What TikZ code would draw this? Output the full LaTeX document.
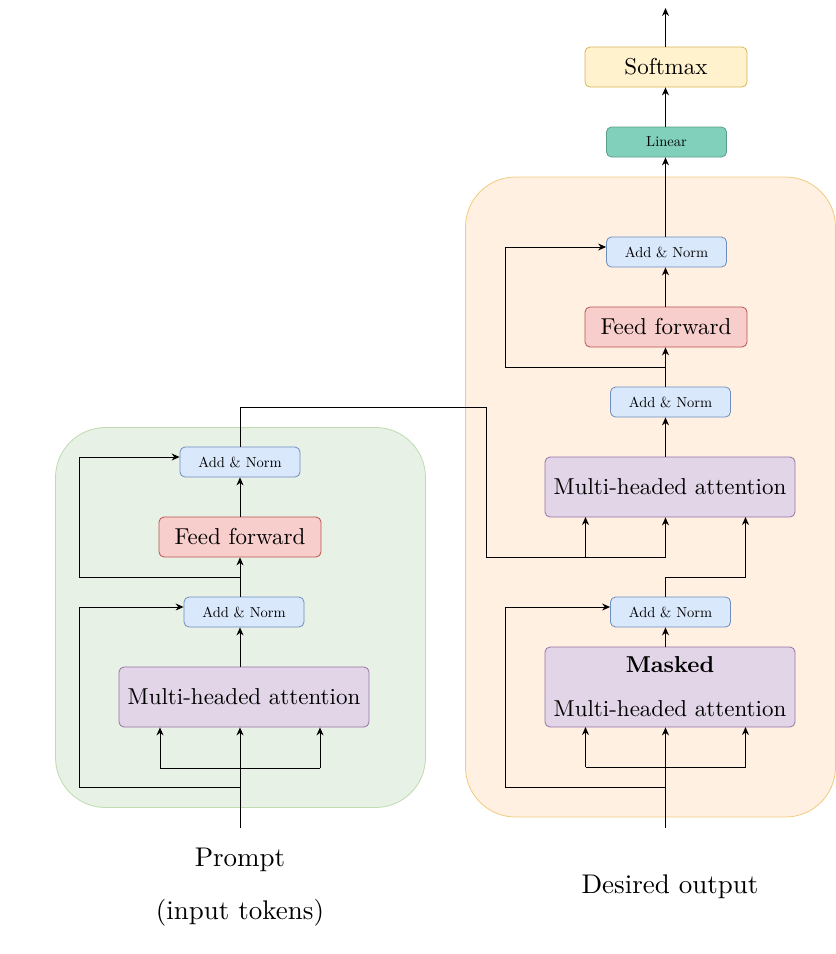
\documentclass[tikz,border=0pt]{standalone}
\usepackage{fontspec}
\setmainfont{lmroman10-regular.otf}[BoldFont=lmroman10-bold.otf]
\usetikzlibrary{arrows.meta,calc}
\definecolor{anfill}{HTML}{DAE8FC}
\definecolor{anline}{HTML}{6C8EBF}
\definecolor{fffill}{HTML}{F8CECC}
\definecolor{ffline}{HTML}{B85450}
\definecolor{mhafill}{HTML}{E1D5E7}
\definecolor{mhaline}{HTML}{9673A6}
\definecolor{smfill}{HTML}{FFF2CC}
\definecolor{smline}{HTML}{D6B656}
\definecolor{linfill}{HTML}{80D0BC}
\definecolor{linline}{HTML}{5B9E88}
\definecolor{encfill}{HTML}{E8F1E6}
\definecolor{encline}{HTML}{BDDBAD}
\definecolor{decfill}{HTML}{FFF0E2}
\definecolor{decline}{HTML}{F0CB7E}
\begin{document}
\begin{tikzpicture}[x=1pt,y=-1pt,
  box/.style={draw, rounded corners=5pt, line width=0.8pt, inner sep=0pt, align=center},
  addnorm/.style={box, fill=anfill, draw=anline, minimum width=120pt, minimum height=30pt, font=\fontsize{14.5}{17}\selectfont},
  ffbox/.style={box, fill=fffill, draw=ffline, minimum width=162pt, minimum height=40pt, font=\fontsize{23}{27}\selectfont},
  mhabox/.style={box, fill=mhafill, draw=mhaline, minimum width=250pt, minimum height=60pt, font=\fontsize{23}{27}\selectfont},
  smbox/.style={box, fill=smfill, draw=smline, minimum width=162pt, minimum height=40pt, font=\fontsize{23}{27}\selectfont},
  linbox/.style={box, fill=linfill, draw=linline, minimum width=120pt, minimum height=30pt, font=\fontsize{14.5}{17}\selectfont},
  container/.style={draw, rounded corners=50pt, line width=0.8pt, inner sep=0pt},
  lbl/.style={inner sep=0pt, font=\fontsize{27}{32}\selectfont},
  conn/.style={line width=1pt, draw=black},
  arr/.style={conn, -{Stealth[length=8pt,width=7pt]}}
]
\useasboundingbox (0,0) rectangle (836,954);

% containers
\node[container, fill=encfill, draw=encline, minimum width=370pt, minimum height=380pt] (enc) at (240.5,617.5) {};
\node[container, fill=decfill, draw=decline, minimum width=370pt, minimum height=640pt] (dec) at (650.5,497) {};

% encoder nodes
\node[addnorm] (lan2) at (240,462) {Add \& Norm};
\node[ffbox] (lff) at (240,537) {Feed forward};
\node[addnorm] (lan1) at (244,612) {Add \& Norm};
\node[mhabox] (lmha) at (244,697) {Multi-headed attention};
\coordinate (lin) at (240,828);
\node[lbl] (lp1) at (240,860) {Prompt};
\node[lbl] (lp2) at (240,913) {(input tokens)};

% decoder nodes
\node[mhabox, minimum height=80pt, font=\fontsize{23}{44}\selectfont] (rmmha) at (670,687) {\textbf{Masked}\\Multi-headed attention};
\node[addnorm] (ran1) at (670.5,612) {Add \& Norm};
\node[mhabox] (rmha) at (670,487) {Multi-headed attention};
\node[addnorm] (ran2) at (670.5,402) {Add \& Norm};
\node[ffbox] (rff) at (666,327) {Feed forward};
\node[addnorm] (ran3) at (666.5,252) {Add \& Norm};
\node[linbox] (lin2) at (666.5,142) {Linear};
\node[smbox] (soft) at (666,67) {Softmax};
\coordinate (rin) at (665.5,828);
\coordinate (rout) at (665.5,8);
\node[lbl] (dout) at (670,887) {Desired output};

% encoder connectors
\draw[arr] (lin) -- (lin |- lmha.south);
\draw[conn] ($(lin)+(-80,-60)$) -- ($(lin)+(80,-60)$);
\draw[arr] ($(lin)+(-80,-60)$) -- ($(lin |- lmha.south)+(-80,0)$);
\draw[arr] ($(lin)+(80,-60)$) -- ($(lin |- lmha.south)+(80,0)$);
\draw[arr] ($(lin)+(0,-41)$) -| (79,607) -- ($(lan1.west)+(0,-5)$);
\draw[arr] (lmha.north -| lin) -- (lan1.south -| lin);
\draw[arr] (lan1.north -| lin) -- (lff.south);
\draw[arr] (240,577) -| (79,457) -- ($(lan2.west)+(0,-5)$);
\draw[arr] (lff.north) -- (lan2.south);
\draw[conn] (lan2.north) |- (486,407) |- (665.5,557);
\draw[arr] (585.5,557) -- (585.5,517);
\draw[arr] (665.5,557) -- (rmha.south -| rin);

% decoder connectors
\draw[arr] (rin) -- (rin |- rmmha.south);
\draw[conn] (585.5,767) -- (745.5,767);
\draw[arr] (585.5,767) -- (585.5,727);
\draw[arr] (745.5,767) -- (745.5,727);
\draw[arr] (665.5,787) -| (505.5,607) -- ($(ran1.west)+(0,-5)$);
\draw[arr] (rmmha.north -| rin) -- (ran1.south -| rin);
\draw[arr] (ran1.north -| rin) |- (745.5,577) -- (745.5,517);
\draw[arr] (rmha.north -| rin) -- (ran2.south -| rin);
\draw[arr] (ran2.north -| rin) -- (rff.south -| rin);
\draw[arr] (665.5,367) -| (505.5,247) -- ($(ran3.west)+(0,-5)$);
\draw[arr] (rff.north -| rin) -- (ran3.south -| rin);
\draw[arr] (ran3.north -| rin) -- (lin2.south -| rin);
\draw[arr] (lin2.north -| rin) -- (soft.south -| rin);
\draw[arr] (soft.north -| rin) -- (rout);
\end{tikzpicture}
\end{document}
